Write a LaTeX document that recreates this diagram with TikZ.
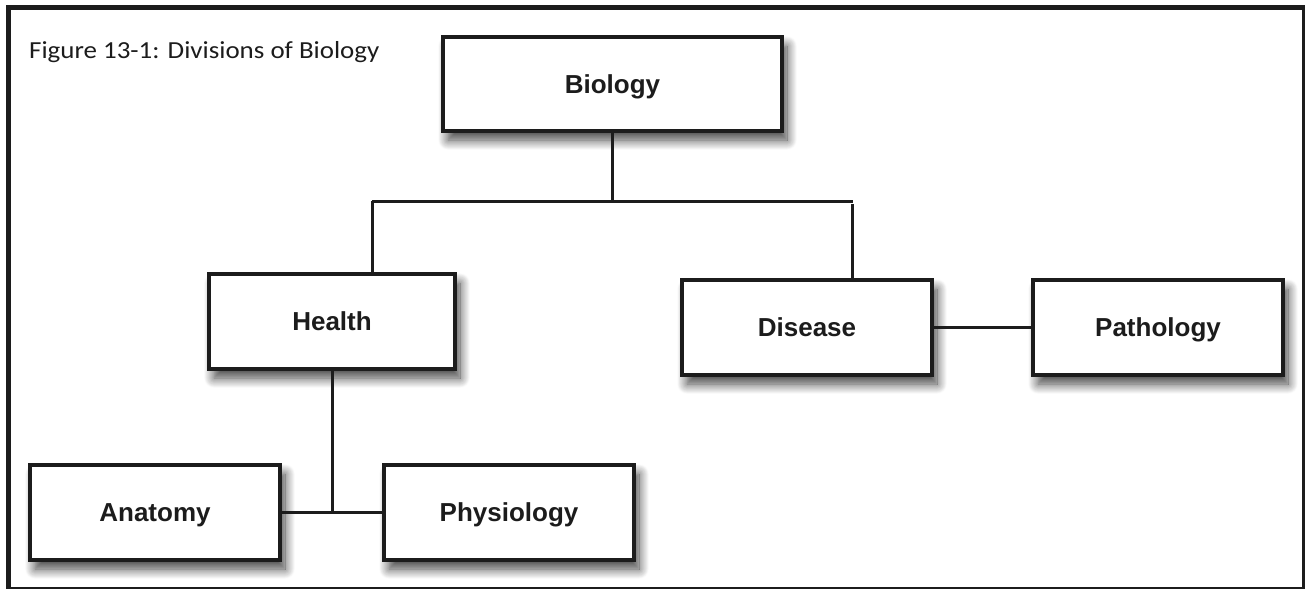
\documentclass[tikz,border=0pt]{standalone}
\usepackage{fontspec}
\usetikzlibrary{shadows.blur}
\newfontfamily\boxfont{Liberation Sans}
\newfontfamily\titlefont{Carlito}
\definecolor{ink}{HTML}{1C1C1C}
\tikzset{
  divbox/.style={draw=ink, line width=3.5pt, fill=white, rectangle,
    font=\boxfont\bfseries\fontsize{26}{30}\selectfont, text=ink,
    text height=18.6pt, text depth=0pt,
    blur shadow={shadow xshift=5pt, shadow yshift=-9pt, shadow blur radius=10pt, shadow opacity=75, shadow blur steps=14}},
  link/.style={draw=ink, line width=3pt},
  frameline/.style={draw=ink}
}
\begin{document}
\begin{tikzpicture}[x=1pt,y=-1pt]
\useasboundingbox (0,0) rectangle (1305,589);
% frame
\draw[frameline, line width=5pt] (6,7.5) -- (1305,7.5);
\draw[frameline, line width=5pt] (8.5,5) -- (8.5,589);
\draw[frameline, line width=3pt] (1303.5,5) -- (1303.5,589);
\draw[frameline, line width=1.5pt] (6,588.2) -- (1305,588.2);
% title
\node[anchor=base west, inner sep=0pt, text=ink] (title) at (29,58.5) {\titlefont\fontsize{24.5}{28}\selectfont\scalebox{1.1}[1]{Figure 13-1: Divisions of Biology}};
% boxes
\node[divbox, minimum width=339pt, minimum height=94pt] (bio) at (612.5,84) {Biology};
\node[divbox, minimum width=246pt, minimum height=95pt] (health) at (332,321.5) {Health};
\node[divbox, minimum width=250pt, minimum height=95pt] (disease) at (807,327.5) {Disease};
\node[divbox, minimum width=250pt, minimum height=95pt] (patho) at (1158,327.5) {Pathology};
\node[divbox, minimum width=250pt, minimum height=95pt] (anat) at (155,512.5) {Anatomy};
\node[divbox, minimum width=250pt, minimum height=95pt] (phys) at (509,512.5) {Physiology};
% connectors
\coordinate (hl) at (372,201);
\coordinate (hr) at (853,201);
\coordinate (dr) at (852,204);
\draw[link] (bio.south) -- (bio.south |- hl);
\draw[link] (hl) -- (hr);
\draw[link] (hl) -- (hl |- health.north);
\draw[link] (dr) -- (dr |- disease.north);
\draw[link] (disease.east) -- (disease.east -| patho.west);
\draw[link] (health.south) -- (health.south |- anat.east);
\draw[link] (anat.east) -- (phys.west);
\end{tikzpicture}
\end{document}
